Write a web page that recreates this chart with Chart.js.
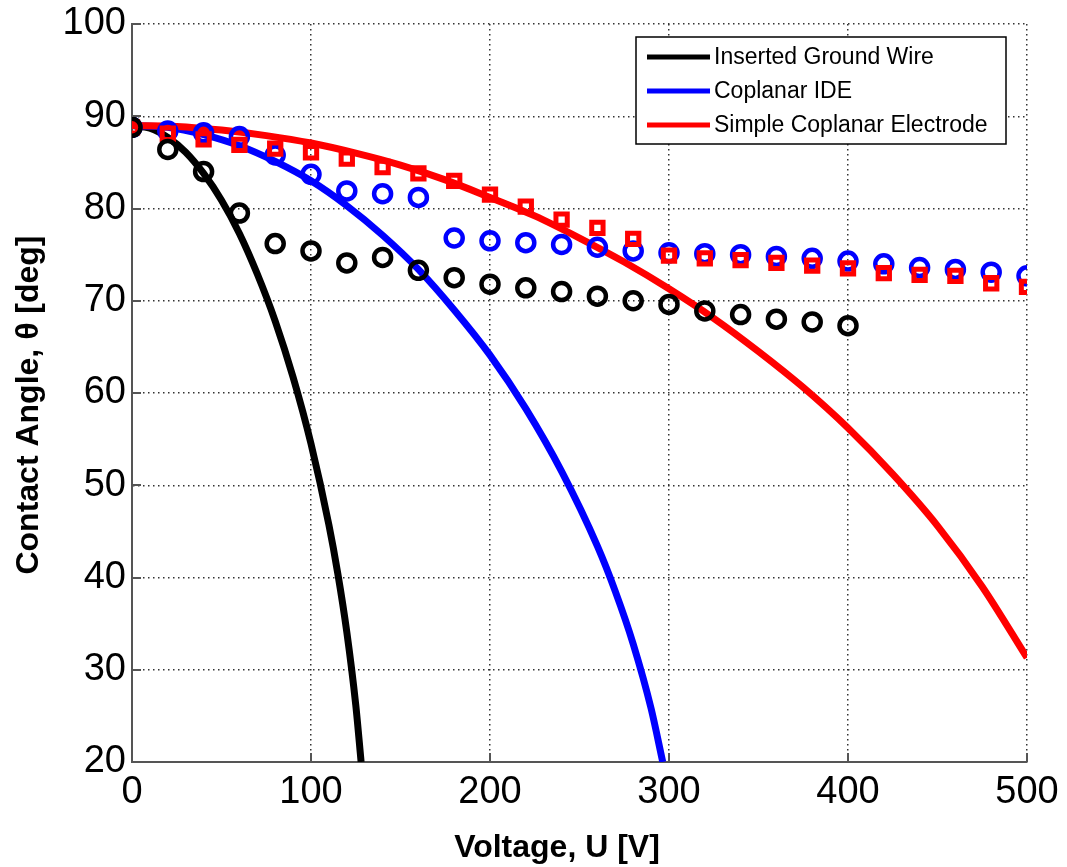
<!DOCTYPE html>
<html>
<head>
<meta charset="utf-8">
<title>Contact angle vs voltage</title>
<script src="https://cdn.jsdelivr.net/npm/chart.js@4.4.1/dist/chart.umd.min.js"></script>
<style>
  html, body { margin: 0; padding: 0; background: #fff; }
  canvas { display: block; }
</style>
</head>
<body>
<canvas id="chart" width="1067" height="867"></canvas>
<script>
// Contact angle vs applied voltage: measured points + fitted curves for three electrode layouts

// measured voltages (V)
const uGround = [0, 20, 40, 60, 80, 100, 120, 140, 160, 180, 200, 220, 240, 260, 280, 300, 320, 340, 360, 380, 400];
const uCoplanar = [0, 20, 40, 60, 80, 100, 120, 140, 160, 180, 200, 220, 240, 260, 280, 300, 320, 340, 360, 380, 400, 420, 440, 460, 480, 500];

// measured contact angles (deg)
const thetaGround = [88.8, 86.4, 84.0, 79.5, 76.2, 75.4, 74.1, 74.7, 73.3, 72.5, 71.8, 71.4, 71.0, 70.5, 70.0, 69.6, 68.9, 68.5, 68.0, 67.7, 67.3];
const thetaIde = [88.8, 88.4, 88.2, 87.8, 85.8, 83.7, 81.9, 81.6, 81.2, 76.8, 76.5, 76.3, 76.1, 75.8, 75.4, 75.2, 75.1, 75.0, 74.8, 74.6, 74.3, 74.0, 73.6, 73.4, 73.1, 72.7];
const thetaSimple = [88.8, 88.1, 87.5, 86.9, 86.5, 86.1, 85.4, 84.5, 83.8, 83.0, 81.5, 80.2, 78.8, 77.9, 76.7, 74.9, 74.6, 74.4, 74.1, 73.8, 73.5, 73.0, 72.8, 72.7, 71.9, 71.5];

// fitted curves (sampled)
const fitGroundU = [0, 10, 20, 30, 40, 50, 60, 70, 80, 90, 100, 110, 115, 120, 125, 128];
const fitGroundTheta = [89.0, 88.7, 87.7, 86.1, 83.8, 80.9, 77.3, 72.9, 67.8, 61.7, 54.5, 45.7, 40.4, 34.1, 26.2, 20.0];
const fitIdeU = [0, 20, 40, 60, 80, 100, 120, 140, 160, 180, 200, 220, 240, 260, 270, 280, 290, 296.5];
const fitIdeTheta = [89.0, 88.8, 88.0, 86.8, 85.1, 83.0, 80.3, 77.1, 73.4, 69.0, 64.1, 58.3, 51.5, 43.4, 38.5, 32.8, 25.8, 20.0];
const fitSimpleU = [0, 25, 50, 75, 100, 125, 150, 175, 200, 225, 250, 275, 300, 325, 350, 375, 400, 425, 450, 475, 500];
const fitSimpleTheta = [89.0, 88.9, 88.5, 87.9, 87.1, 86.0, 84.7, 83.1, 81.2, 79.2, 76.8, 74.2, 71.3, 68.1, 64.5, 60.6, 56.2, 51.2, 45.6, 39.0, 31.3];

const seriesNames = ["Inserted Ground Wire", "Coplanar IDE", "Simple Coplanar Electrode"];
const seriesColors = ["#000000", "#0000ff", "#ff0000"];

const xTicks = [0, 100, 200, 300, 400, 500];
const yTicks = [20, 30, 40, 50, 60, 70, 80, 90, 100];

const pts = (xs, ys) => xs.map((x, i) => ({ x: x, y: ys[i] }));

const tickFont = { family: "'Liberation Sans', Arial, sans-serif", size: 38 };
const titleFont = "bold 32px 'Liberation Sans', Arial, sans-serif";

function markers(xs, ys, color, style, radius, width) {
  return {
    data: pts(xs, ys),
    showLine: false,
    pointStyle: style,
    pointRadius: radius,
    borderWidth: width,
    borderColor: color,
    backgroundColor: "rgba(0,0,0,0)",
  };
}

function fitLine(label, xs, ys, color) {
  return {
    label: label,
    data: pts(xs, ys),
    showLine: true,
    pointRadius: 0,
    borderWidth: 7,
    borderColor: color,
    backgroundColor: color,
    cubicInterpolationMode: "monotone",
  };
}

// keep tick labels from pushing the plot area in
function noOverhang(s) {
  s.paddingTop = 0;
  s.paddingBottom = 0;
  s.paddingLeft = 0;
  s.paddingRight = 0;
}

// inward tick marks, axis titles and the boxed legend in the top-right corner
const decorations = {
  id: "decorations",
  afterDraw(chart) {
    const ctx = chart.ctx;
    const { left, bottom } = chart.chartArea;
    const xs = chart.scales.x, ys = chart.scales.y;

    ctx.save();
    ctx.strokeStyle = "#555";
    ctx.lineWidth = 2;
    ctx.beginPath();
    xTicks.forEach((v) => {
      const px = Math.round(xs.getPixelForValue(v));
      ctx.moveTo(px, bottom);
      ctx.lineTo(px, bottom - 9);
    });
    yTicks.forEach((v) => {
      const py = Math.round(ys.getPixelForValue(v));
      ctx.moveTo(left, py);
      ctx.lineTo(left + 9, py);
    });
    ctx.stroke();

    // axis titles
    ctx.fillStyle = "#000";
    ctx.font = titleFont;
    ctx.textAlign = "center";
    ctx.textBaseline = "middle";
    ctx.fillText("Voltage, U [V]", 557, 848);
    ctx.save();
    ctx.translate(29, 405);
    ctx.rotate(-Math.PI / 2);
    ctx.fillText("Contact Angle, θ [deg]", 0, 0);
    ctx.restore();

    // legend, in series order
    const bx = 636, by = 37, bw = 370, bh = 107;
    ctx.fillStyle = "#fff";
    ctx.fillRect(bx, by, bw, bh);
    ctx.strokeStyle = "#000";
    ctx.lineWidth = 1.5;
    ctx.strokeRect(bx, by, bw, bh);
    ctx.font = "23px 'Liberation Sans', Arial, sans-serif";
    ctx.textAlign = "left";
    seriesNames.forEach((name, i) => {
      const d = chart.data.datasets.find((ds) => ds.label === name);
      const ry = 57 + i * 34;
      ctx.strokeStyle = d.borderColor;
      ctx.lineWidth = 5;
      ctx.beginPath();
      ctx.moveTo(647, ry);
      ctx.lineTo(710, ry);
      ctx.stroke();
      ctx.fillStyle = "#000";
      ctx.fillText(d.label, 714, ry + 1);
    });
    ctx.restore();
  },
};

new Chart(document.getElementById("chart"), {
  type: "scatter",
  data: {
    // earlier entries are painted on top
    datasets: [
      markers(uGround, thetaGround, seriesColors[0], "circle", 8.5, 4.5),
      markers(uCoplanar, thetaSimple, seriesColors[2], "rect", 8, 5),
      markers(uCoplanar, thetaIde, seriesColors[1], "circle", 8.5, 4.5),
      fitLine(seriesNames[2], fitSimpleU, fitSimpleTheta, seriesColors[2]),
      fitLine(seriesNames[1], fitIdeU, fitIdeTheta, seriesColors[1]),
      fitLine(seriesNames[0], fitGroundU, fitGroundTheta, seriesColors[0]),
    ],
  },
  options: {
    responsive: false,
    animation: false,
    events: [],
    layout: { padding: { top: 24, right: 40, left: 0, bottom: 0 } },
    plugins: { legend: { display: false }, tooltip: { enabled: false } },
    scales: {
      x: {
        type: "linear",
        min: 0,
        max: 500,
        afterBuildTicks: (s) => { s.ticks = xTicks.map((v) => ({ value: v })); },
        afterFit: (s) => { s.height = 105; noOverhang(s); },
        ticks: { font: tickFont, color: "#000", padding: 8, maxRotation: 0 },
        grid: { color: "#333", lineWidth: 1.5, drawTicks: false },
        border: { color: "#555", width: 2, dash: [1.5, 3.5] },
      },
      y: {
        type: "linear",
        min: 20,
        max: 100,
        afterBuildTicks: (s) => { s.ticks = yTicks.map((v) => ({ value: v })); },
        afterFit: (s) => { s.width = 132; noOverhang(s); },
        ticks: { font: tickFont, color: "#000", padding: 6 },
        grid: { color: "#333", lineWidth: 1.5, drawTicks: false },
        border: { color: "#555", width: 2, dash: [1.5, 3.5] },
      },
    },
  },
  plugins: [decorations],
});
</script>
</body>
</html>
